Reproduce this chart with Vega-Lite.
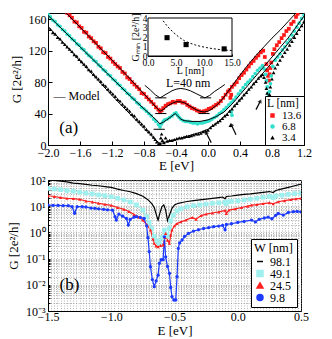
{
  "$schema": "https://vega.github.io/schema/vega-lite/v6.json",
  "padding": {"left": 6, "top": 12, "right": 4, "bottom": 0},
  "spacing": 0,
  "config": {
    "font": "Liberation Serif",
    "view": {"stroke": "black", "strokeWidth": 1},
    "axis": {"labelFont": "Liberation Serif", "titleFont": "Liberation Serif", "labelFontSize": 12, "titleFontSize": 13, "titleFontWeight": "normal", "labelColor": "black", "titleColor": "black", "domainColor": "black", "tickColor": "black", "grid": false, "labelFlush": false, "labelOverlap": false, "tickSize": -4, "labelPadding": 6, "titlePadding": 4},
    "legend": {"titleFont": "Liberation Serif", "labelFont": "Liberation Serif", "titleFontWeight": "normal", "titleFontSize": 12, "labelFontSize": 11.5, "strokeColor": "black", "fillColor": "white", "padding": 3, "rowPadding": 0, "titlePadding": 1, "cornerRadius": 0, "labelColor": "black", "titleColor": "black"},
    "text": {"font": "Liberation Serif"}
  },
  "resolve": {"scale": {"color": "independent", "shape": "independent"}, "legend": {"color": "independent", "shape": "independent"}},
  "datasets": {
    "pa": [
      {"L":"13.6","E":-1.76,"G":168},{"L":"13.6","E":-1.73,"G":165},{"L":"13.6","E":-1.70,"G":162},{"L":"13.6","E":-1.67,"G":157},{"L":"13.6","E":-1.64,"G":156},{"L":"13.6","E":-1.61,"G":151},{"L":"13.6","E":-1.58,"G":149},{"L":"13.6","E":-1.55,"G":144},{"L":"13.6","E":-1.52,"G":143},{"L":"13.6","E":-1.49,"G":138},{"L":"13.6","E":-1.46,"G":136},{"L":"13.6","E":-1.43,"G":132},{"L":"13.6","E":-1.40,"G":130},{"L":"13.6","E":-1.37,"G":125},{"L":"13.6","E":-1.34,"G":123},{"L":"13.6","E":-1.31,"G":118},{"L":"13.6","E":-1.28,"G":117},{"L":"13.6","E":-1.25,"G":112},{"L":"13.6","E":-1.22,"G":110},{"L":"13.6","E":-1.19,"G":106},{"L":"13.6","E":-1.16,"G":103},{"L":"13.6","E":-1.13,"G":100},{"L":"13.6","E":-1.10,"G":98},{"L":"13.6","E":-1.07,"G":93},{"L":"13.6","E":-1.04,"G":91},{"L":"13.6","E":-1.01,"G":86},{"L":"13.6","E":-0.98,"G":84},{"L":"13.6","E":-0.95,"G":80},{"L":"13.6","E":-0.92,"G":77},{"L":"13.6","E":-0.89,"G":74},{"L":"13.6","E":-0.86,"G":71},{"L":"13.6","E":-0.83,"G":66},{"L":"13.6","E":-0.80,"G":65},{"L":"13.6","E":-0.77,"G":61},{"L":"13.6","E":-0.74,"G":58},{"L":"13.6","E":-0.71,"G":55},{"L":"13.6","E":-0.68,"G":52},{"L":"13.6","E":-0.65,"G":48},{"L":"13.6","E":-0.62,"G":45},{"L":"13.6","E":-0.60,"G":42},{"L":"13.6","E":-0.58,"G":44},{"L":"13.6","E":-0.56,"G":47},{"L":"13.6","E":-0.53,"G":50},{"L":"13.6","E":-0.50,"G":52},{"L":"13.6","E":-0.47,"G":53},{"L":"13.6","E":-0.44,"G":55},{"L":"13.6","E":-0.41,"G":54},{"L":"13.6","E":-0.38,"G":56},{"L":"13.6","E":-0.35,"G":56},{"L":"13.6","E":-0.32,"G":54},{"L":"13.6","E":-0.29,"G":54},{"L":"13.6","E":-0.26,"G":51},{"L":"13.6","E":-0.23,"G":49},{"L":"13.6","E":-0.20,"G":47},{"L":"13.6","E":-0.17,"G":46},{"L":"13.6","E":-0.14,"G":44},{"L":"13.6","E":-0.11,"G":43},{"L":"13.6","E":-0.08,"G":42},{"L":"13.6","E":-0.05,"G":43},{"L":"13.6","E":-0.02,"G":44},{"L":"13.6","E":0.01,"G":46},{"L":"13.6","E":0.04,"G":47},{"L":"13.6","E":0.07,"G":49},{"L":"13.6","E":0.10,"G":51},{"L":"13.6","E":0.13,"G":53},{"L":"13.6","E":0.16,"G":56},{"L":"13.6","E":0.19,"G":60},{"L":"13.6","E":0.22,"G":64},{"L":"13.6","E":0.25,"G":68},{"L":"13.6","E":0.27,"G":70},{"L":"13.6","E":0.28,"G":60},{"L":"13.6","E":0.29,"G":64},{"L":"13.6","E":0.30,"G":74},{"L":"13.6","E":0.33,"G":77},{"L":"13.6","E":0.36,"G":80},{"L":"13.6","E":0.39,"G":85},{"L":"13.6","E":0.42,"G":89},{"L":"13.6","E":0.45,"G":92},{"L":"13.6","E":0.48,"G":96},{"L":"13.6","E":0.51,"G":100},{"L":"13.6","E":0.54,"G":104},{"L":"13.6","E":0.57,"G":107},{"L":"13.6","E":0.60,"G":111},{"L":"13.6","E":0.63,"G":114},{"L":"13.6","E":0.66,"G":118},{"L":"13.6","E":0.69,"G":120},{"L":"13.6","E":0.71,"G":112},{"L":"13.6","E":0.73,"G":103},{"L":"13.6","E":0.74,"G":95},{"L":"13.6","E":0.75,"G":88},{"L":"13.6","E":0.76,"G":82},{"L":"13.6","E":0.77,"G":90},{"L":"13.6","E":0.78,"G":98},{"L":"13.6","E":0.79,"G":105},{"L":"13.6","E":0.81,"G":116},{"L":"13.6","E":0.83,"G":122},{"L":"13.6","E":0.86,"G":127},{"L":"13.6","E":0.89,"G":131},{"L":"13.6","E":0.92,"G":136},{"L":"13.6","E":0.95,"G":140},{"L":"13.6","E":0.98,"G":145},{"L":"13.6","E":1.01,"G":148},{"L":"13.6","E":1.04,"G":154},{"L":"13.6","E":1.07,"G":157},{"L":"13.6","E":1.10,"G":163},{"L":"13.6","E":1.12,"G":167},
      {"L":"6.8","E":-2.00,"G":166},{"L":"6.8","E":-1.97,"G":163},{"L":"6.8","E":-1.94,"G":159},{"L":"6.8","E":-1.91,"G":157},{"L":"6.8","E":-1.88,"G":153},{"L":"6.8","E":-1.85,"G":151},{"L":"6.8","E":-1.82,"G":147},{"L":"6.8","E":-1.79,"G":145},{"L":"6.8","E":-1.76,"G":141},{"L":"6.8","E":-1.73,"G":139},{"L":"6.8","E":-1.70,"G":135},{"L":"6.8","E":-1.67,"G":133},{"L":"6.8","E":-1.64,"G":129},{"L":"6.8","E":-1.61,"G":127},{"L":"6.8","E":-1.58,"G":123},{"L":"6.8","E":-1.55,"G":121},{"L":"6.8","E":-1.52,"G":117},{"L":"6.8","E":-1.49,"G":114},{"L":"6.8","E":-1.46,"G":112},{"L":"6.8","E":-1.43,"G":108},{"L":"6.8","E":-1.40,"G":106},{"L":"6.8","E":-1.37,"G":102},{"L":"6.8","E":-1.34,"G":100},{"L":"6.8","E":-1.31,"G":96},{"L":"6.8","E":-1.28,"G":94},{"L":"6.8","E":-1.25,"G":90},{"L":"6.8","E":-1.22,"G":88},{"L":"6.8","E":-1.19,"G":84},{"L":"6.8","E":-1.16,"G":82},{"L":"6.8","E":-1.13,"G":78},{"L":"6.8","E":-1.10,"G":76},{"L":"6.8","E":-1.07,"G":72},{"L":"6.8","E":-1.04,"G":70},{"L":"6.8","E":-1.01,"G":66},{"L":"6.8","E":-0.98,"G":64},{"L":"6.8","E":-0.95,"G":60},{"L":"6.8","E":-0.92,"G":58},{"L":"6.8","E":-0.89,"G":54},{"L":"6.8","E":-0.86,"G":52},{"L":"6.8","E":-0.83,"G":48},{"L":"6.8","E":-0.80,"G":46},{"L":"6.8","E":-0.77,"G":43},{"L":"6.8","E":-0.74,"G":40},{"L":"6.8","E":-0.71,"G":37},{"L":"6.8","E":-0.68,"G":33},{"L":"6.8","E":-0.65,"G":30},{"L":"6.8","E":-0.62,"G":26},{"L":"6.8","E":-0.60,"G":23},{"L":"6.8","E":-0.58,"G":27},{"L":"6.8","E":-0.56,"G":30},{"L":"6.8","E":-0.54,"G":32},{"L":"6.8","E":-0.51,"G":33},{"L":"6.8","E":-0.48,"G":35},{"L":"6.8","E":-0.45,"G":37},{"L":"6.8","E":-0.42,"G":40},{"L":"6.8","E":-0.40,"G":41},{"L":"6.8","E":-0.38,"G":38},{"L":"6.8","E":-0.36,"G":35},{"L":"6.8","E":-0.34,"G":33},{"L":"6.8","E":-0.31,"G":31},{"L":"6.8","E":-0.28,"G":30},{"L":"6.8","E":-0.25,"G":30},{"L":"6.8","E":-0.22,"G":29},{"L":"6.8","E":-0.19,"G":28},{"L":"6.8","E":-0.16,"G":28},{"L":"6.8","E":-0.13,"G":27},{"L":"6.8","E":-0.10,"G":28},{"L":"6.8","E":-0.07,"G":28},{"L":"6.8","E":-0.04,"G":29},{"L":"6.8","E":-0.01,"G":30},{"L":"6.8","E":0.02,"G":31},{"L":"6.8","E":0.05,"G":33},{"L":"6.8","E":0.08,"G":35},{"L":"6.8","E":0.11,"G":37},{"L":"6.8","E":0.14,"G":40},{"L":"6.8","E":0.17,"G":42},{"L":"6.8","E":0.20,"G":45},{"L":"6.8","E":0.23,"G":48},{"L":"6.8","E":0.26,"G":51},{"L":"6.8","E":0.29,"G":42},{"L":"6.8","E":0.29,"G":54},{"L":"6.8","E":0.30,"G":38},{"L":"6.8","E":0.32,"G":57},{"L":"6.8","E":0.35,"G":61},{"L":"6.8","E":0.38,"G":65},{"L":"6.8","E":0.41,"G":69},{"L":"6.8","E":0.44,"G":73},{"L":"6.8","E":0.47,"G":77},{"L":"6.8","E":0.50,"G":80},{"L":"6.8","E":0.53,"G":83},{"L":"6.8","E":0.56,"G":87},{"L":"6.8","E":0.59,"G":91},{"L":"6.8","E":0.62,"G":95},{"L":"6.8","E":0.65,"G":98},{"L":"6.8","E":0.68,"G":101},{"L":"6.8","E":0.70,"G":97},{"L":"6.8","E":0.72,"G":90},{"L":"6.8","E":0.73,"G":82},{"L":"6.8","E":0.74,"G":74},{"L":"6.8","E":0.75,"G":66},{"L":"6.8","E":0.76,"G":62},{"L":"6.8","E":0.77,"G":68},{"L":"6.8","E":0.78,"G":78},{"L":"6.8","E":0.79,"G":88},{"L":"6.8","E":0.81,"G":100},{"L":"6.8","E":0.84,"G":108},{"L":"6.8","E":0.87,"G":112},{"L":"6.8","E":0.90,"G":116},{"L":"6.8","E":0.93,"G":121},{"L":"6.8","E":0.96,"G":125},{"L":"6.8","E":0.99,"G":130},{"L":"6.8","E":1.02,"G":134},{"L":"6.8","E":1.05,"G":140},{"L":"6.8","E":1.08,"G":145},{"L":"6.8","E":1.11,"G":150},{"L":"6.8","E":1.14,"G":155},{"L":"6.8","E":1.17,"G":161},{"L":"6.8","E":1.20,"G":165},
      {"L":"3.4","E":-2.00,"G":150},{"L":"3.4","E":-1.97,"G":147},{"L":"3.4","E":-1.94,"G":143},{"L":"3.4","E":-1.91,"G":141},{"L":"3.4","E":-1.88,"G":137},{"L":"3.4","E":-1.85,"G":135},{"L":"3.4","E":-1.82,"G":131},{"L":"3.4","E":-1.79,"G":128},{"L":"3.4","E":-1.76,"G":125},{"L":"3.4","E":-1.73,"G":122},{"L":"3.4","E":-1.70,"G":119},{"L":"3.4","E":-1.67,"G":115},{"L":"3.4","E":-1.64,"G":113},{"L":"3.4","E":-1.61,"G":109},{"L":"3.4","E":-1.58,"G":106},{"L":"3.4","E":-1.55,"G":103},{"L":"3.4","E":-1.52,"G":100},{"L":"3.4","E":-1.49,"G":96},{"L":"3.4","E":-1.46,"G":94},{"L":"3.4","E":-1.43,"G":90},{"L":"3.4","E":-1.40,"G":87},{"L":"3.4","E":-1.37,"G":84},{"L":"3.4","E":-1.34,"G":81},{"L":"3.4","E":-1.31,"G":77},{"L":"3.4","E":-1.28,"G":75},{"L":"3.4","E":-1.25,"G":71},{"L":"3.4","E":-1.22,"G":68},{"L":"3.4","E":-1.19,"G":65},{"L":"3.4","E":-1.16,"G":62},{"L":"3.4","E":-1.13,"G":58},{"L":"3.4","E":-1.10,"G":56},{"L":"3.4","E":-1.07,"G":52},{"L":"3.4","E":-1.04,"G":49},{"L":"3.4","E":-1.01,"G":46},{"L":"3.4","E":-0.98,"G":43},{"L":"3.4","E":-0.95,"G":39},{"L":"3.4","E":-0.92,"G":37},{"L":"3.4","E":-0.89,"G":33},{"L":"3.4","E":-0.86,"G":30},{"L":"3.4","E":-0.83,"G":27},{"L":"3.4","E":-0.80,"G":24},{"L":"3.4","E":-0.77,"G":20},{"L":"3.4","E":-0.74,"G":17},{"L":"3.4","E":-0.71,"G":14},{"L":"3.4","E":-0.68,"G":10},{"L":"3.4","E":-0.66,"G":7},{"L":"3.4","E":-0.64,"G":4},{"L":"3.4","E":-0.62,"G":1},{"L":"3.4","E":-0.60,"G":2},{"L":"3.4","E":-0.59,"G":9},{"L":"3.4","E":-0.58,"G":14},{"L":"3.4","E":-0.57,"G":6},{"L":"3.4","E":-0.55,"G":3},{"L":"3.4","E":-0.53,"G":9},{"L":"3.4","E":-0.51,"G":5},{"L":"3.4","E":-0.48,"G":6},{"L":"3.4","E":-0.45,"G":6},{"L":"3.4","E":-0.42,"G":7},{"L":"3.4","E":-0.39,"G":8},{"L":"3.4","E":-0.36,"G":9},{"L":"3.4","E":-0.33,"G":9},{"L":"3.4","E":-0.30,"G":10},{"L":"3.4","E":-0.27,"G":11},{"L":"3.4","E":-0.24,"G":11},{"L":"3.4","E":-0.21,"G":12},{"L":"3.4","E":-0.18,"G":13},{"L":"3.4","E":-0.15,"G":14},{"L":"3.4","E":-0.12,"G":14},{"L":"3.4","E":-0.09,"G":15},{"L":"3.4","E":-0.06,"G":17},{"L":"3.4","E":-0.03,"G":18},{"L":"3.4","E":0.00,"G":19},{"L":"3.4","E":0.03,"G":22},{"L":"3.4","E":0.06,"G":25},{"L":"3.4","E":0.09,"G":27},{"L":"3.4","E":0.12,"G":29},{"L":"3.4","E":0.15,"G":31},{"L":"3.4","E":0.18,"G":34},{"L":"3.4","E":0.21,"G":37},{"L":"3.4","E":0.24,"G":39},{"L":"3.4","E":0.27,"G":43},{"L":"3.4","E":0.28,"G":25},{"L":"3.4","E":0.30,"G":46},{"L":"3.4","E":0.33,"G":50},{"L":"3.4","E":0.36,"G":53},{"L":"3.4","E":0.39,"G":57},{"L":"3.4","E":0.42,"G":60},{"L":"3.4","E":0.45,"G":64},{"L":"3.4","E":0.48,"G":67},{"L":"3.4","E":0.51,"G":71},{"L":"3.4","E":0.54,"G":74},{"L":"3.4","E":0.57,"G":78},{"L":"3.4","E":0.60,"G":81},{"L":"3.4","E":0.63,"G":85},{"L":"3.4","E":0.66,"G":88},{"L":"3.4","E":0.68,"G":90},{"L":"3.4","E":0.70,"G":86},{"L":"3.4","E":0.72,"G":80},{"L":"3.4","E":0.73,"G":72},{"L":"3.4","E":0.74,"G":66},{"L":"3.4","E":0.75,"G":61},{"L":"3.4","E":0.76,"G":58},{"L":"3.4","E":0.77,"G":64},{"L":"3.4","E":0.78,"G":74},{"L":"3.4","E":0.80,"G":84},{"L":"3.4","E":0.82,"G":92},{"L":"3.4","E":0.84,"G":98},{"L":"3.4","E":0.87,"G":103},{"L":"3.4","E":0.90,"G":108},{"L":"3.4","E":0.93,"G":113},{"L":"3.4","E":0.96,"G":118},{"L":"3.4","E":0.99,"G":122},{"L":"3.4","E":1.02,"G":127},{"L":"3.4","E":1.05,"G":132},{"L":"3.4","E":1.08,"G":137},{"L":"3.4","E":1.11,"G":142},{"L":"3.4","E":1.14,"G":147},{"L":"3.4","E":1.17,"G":152},{"L":"3.4","E":1.20,"G":157}
    ],
    "ma": [
      {"m":"13.6","E":-1.8,"G":171},{"m":"13.6","E":-1.6,"G":150},{"m":"13.6","E":-1.4,"G":129},{"m":"13.6","E":-1.2,"G":108},{"m":"13.6","E":-1.0,"G":87},{"m":"13.6","E":-0.9,"G":76},{"m":"13.6","E":-0.8,"G":65},{"m":"13.6","E":-0.7,"G":54},{"m":"13.6","E":-0.64,"G":47},{"m":"13.6","E":-0.6,"G":43},{"m":"13.6","E":-0.56,"G":45},{"m":"13.6","E":-0.5,"G":50},{"m":"13.6","E":-0.45,"G":53},{"m":"13.6","E":-0.4,"G":55},{"m":"13.6","E":-0.35,"G":55},{"m":"13.6","E":-0.3,"G":54},{"m":"13.6","E":-0.25,"G":51},{"m":"13.6","E":-0.2,"G":48},{"m":"13.6","E":-0.15,"G":45},{"m":"13.6","E":-0.1,"G":43},{"m":"13.6","E":-0.05,"G":42},{"m":"13.6","E":0.0,"G":43},{"m":"13.6","E":0.05,"G":46},{"m":"13.6","E":0.1,"G":50},{"m":"13.6","E":0.15,"G":55},{"m":"13.6","E":0.2,"G":61},{"m":"13.6","E":0.3,"G":75},{"m":"13.6","E":0.4,"G":89},{"m":"13.6","E":0.5,"G":102},{"m":"13.6","E":0.6,"G":114},{"m":"13.6","E":0.7,"G":125},{"m":"13.6","E":0.8,"G":136},{"m":"13.6","E":0.9,"G":146},{"m":"13.6","E":1.0,"G":157},{"m":"13.6","E":1.1,"G":168},{"m":"13.6","E":1.13,"G":171},
      {"m":"6.8","E":-2.0,"G":165},{"m":"6.8","E":-1.8,"G":145},{"m":"6.8","E":-1.6,"G":125},{"m":"6.8","E":-1.4,"G":105},{"m":"6.8","E":-1.2,"G":85},{"m":"6.8","E":-1.0,"G":65},{"m":"6.8","E":-0.8,"G":46},{"m":"6.8","E":-0.7,"G":37},{"m":"6.8","E":-0.64,"G":31},{"m":"6.8","E":-0.6,"G":27},{"m":"6.8","E":-0.56,"G":29},{"m":"6.8","E":-0.5,"G":33},{"m":"6.8","E":-0.45,"G":37},{"m":"6.8","E":-0.41,"G":40},{"m":"6.8","E":-0.38,"G":37},{"m":"6.8","E":-0.34,"G":33},{"m":"6.8","E":-0.3,"G":31},{"m":"6.8","E":-0.2,"G":30},{"m":"6.8","E":-0.1,"G":30},{"m":"6.8","E":0.0,"G":32},{"m":"6.8","E":0.1,"G":36},{"m":"6.8","E":0.2,"G":42},{"m":"6.8","E":0.3,"G":52},{"m":"6.8","E":0.4,"G":64},{"m":"6.8","E":0.5,"G":76},{"m":"6.8","E":0.6,"G":88},{"m":"6.8","E":0.7,"G":100},{"m":"6.8","E":0.8,"G":112},{"m":"6.8","E":0.9,"G":124},{"m":"6.8","E":1.0,"G":136},{"m":"6.8","E":1.1,"G":150},{"m":"6.8","E":1.2,"G":164},
      {"m":"3.4","E":-2.0,"G":151},{"m":"3.4","E":-1.8,"G":129},{"m":"3.4","E":-1.6,"G":107},{"m":"3.4","E":-1.4,"G":85},{"m":"3.4","E":-1.2,"G":63},{"m":"3.4","E":-1.0,"G":42},{"m":"3.4","E":-0.8,"G":21},{"m":"3.4","E":-0.7,"G":11},{"m":"3.4","E":-0.64,"G":5},{"m":"3.4","E":-0.6,"G":2},{"m":"3.4","E":-0.55,"G":3},{"m":"3.4","E":-0.5,"G":5},{"m":"3.4","E":-0.4,"G":7},{"m":"3.4","E":-0.3,"G":10},{"m":"3.4","E":-0.2,"G":13},{"m":"3.4","E":-0.1,"G":16},{"m":"3.4","E":0.0,"G":20},{"m":"3.4","E":0.1,"G":27},{"m":"3.4","E":0.2,"G":36},{"m":"3.4","E":0.3,"G":46},{"m":"3.4","E":0.4,"G":57},{"m":"3.4","E":0.5,"G":69},{"m":"3.4","E":0.6,"G":81},{"m":"3.4","E":0.7,"G":93},{"m":"3.4","E":0.8,"G":105},{"m":"3.4","E":0.9,"G":117},{"m":"3.4","E":1.0,"G":129},{"m":"3.4","E":1.1,"G":142},{"m":"3.4","E":1.2,"G":156},
      {"m":"40","E":-0.79,"G":76},{"m":"40","E":-0.72,"G":70},{"m":"40","E":-0.66,"G":64},{"m":"40","E":-0.6,"G":60},{"m":"40","E":-0.55,"G":63},{"m":"40","E":-0.5,"G":66},{"m":"40","E":-0.45,"G":69},{"m":"40","E":-0.4,"G":71},{"m":"40","E":-0.34,"G":72},{"m":"40","E":-0.28,"G":71},{"m":"40","E":-0.22,"G":69},{"m":"40","E":-0.16,"G":66},{"m":"40","E":-0.1,"G":63},{"m":"40","E":-0.04,"G":60},{"m":"40","E":0.02,"G":63},{"m":"40","E":0.08,"G":68},{"m":"40","E":0.14,"G":72},{"m":"40","E":0.21,"G":77}
    ],
    "bars": [
      {"E":-0.66,"E2":-0.52,"G":60},{"E":-0.1,"E2":0.04,"G":60},{"E":-0.66,"E2":-0.52,"G":40},{"E":-0.12,"E2":0.02,"G":40},{"E":-0.68,"E2":-0.54,"G":20}
    ],
    "arrows": [
      {"E":0.04,"G":3,"E2":-0.025,"G2":16,"d":"left"},
      {"E":0.35,"G":13,"E2":0.29,"G2":26,"d":"left"},
      {"E":0.6,"G":45,"E2":0.655,"G2":56,"d":"right"}
    ],
    "ta": [
      {"E":-1.93,"G":63,"t":"— Model"},
      {"E":-0.525,"G":79,"t":"L=40 nm"}
    ],
    "tlab": [{"E":-1.74,"G":22,"t":"(a)"}],
    "frame": [{"Li":0,"Li2":15,"Gm":0,"Gm2":4}],
    "ins": [{"Li":3.4,"Gm":1.93},{"Li":6.8,"Gm":1.2},{"Li":13.6,"Gm":0.75}],
    "inc": [
      {"Li":2.7,"Gm":3.7},{"Li":3.5,"Gm":3.1},{"Li":4.5,"Gm":2.5},{"Li":5.5,"Gm":2.0},{"Li":6.5,"Gm":1.6},{"Li":7.5,"Gm":1.35},{"Li":8.5,"Gm":1.15},{"Li":9.5,"Gm":1.0},{"Li":10.5,"Gm":0.88},{"Li":11.5,"Gm":0.78},{"Li":12.5,"Gm":0.7},{"Li":13.5,"Gm":0.64},{"Li":14.5,"Gm":0.6},{"Li":15,"Gm":0.58}
    ],
    "pb": [
      {"W":"98.1","E":-1.5,"G":100},{"W":"98.1","E":-1.45,"G":95.5},{"W":"98.1","E":-1.4,"G":91.2},{"W":"98.1","E":-1.35,"G":85.1},{"W":"98.1","E":-1.3,"G":75.9},{"W":"98.1","E":-1.25,"G":72.4},{"W":"98.1","E":-1.2,"G":67.6},{"W":"98.1","E":-1.15,"G":63.1},{"W":"98.1","E":-1.1,"G":60.3},{"W":"98.1","E":-1.05,"G":56.2},{"W":"98.1","E":-1.0,"G":52.5},{"W":"98.1","E":-0.95,"G":44.7},{"W":"98.1","E":-0.9,"G":39.8},{"W":"98.1","E":-0.85,"G":35.5},{"W":"98.1","E":-0.8,"G":30.2},{"W":"98.1","E":-0.75,"G":24.0},{"W":"98.1","E":-0.71,"G":17.8},{"W":"98.1","E":-0.68,"G":12.6},{"W":"98.1","E":-0.66,"G":8.9},{"W":"98.1","E":-0.645,"G":5.0},{"W":"98.1","E":-0.63,"G":2.95},{"W":"98.1","E":-0.615,"G":5.6},{"W":"98.1","E":-0.6,"G":9.55},{"W":"98.1","E":-0.585,"G":11.2},{"W":"98.1","E":-0.57,"G":7.1},{"W":"98.1","E":-0.555,"G":2.8},{"W":"98.1","E":-0.54,"G":4.5},{"W":"98.1","E":-0.52,"G":8.3},{"W":"98.1","E":-0.5,"G":11.2},{"W":"98.1","E":-0.47,"G":12.9},{"W":"98.1","E":-0.44,"G":13.8},{"W":"98.1","E":-0.4,"G":15.1},{"W":"98.1","E":-0.35,"G":16.2},{"W":"98.1","E":-0.3,"G":17.4},{"W":"98.1","E":-0.25,"G":18.6},{"W":"98.1","E":-0.2,"G":20.0},{"W":"98.1","E":-0.15,"G":21.4},{"W":"98.1","E":-0.12,"G":22.4},{"W":"98.1","E":-0.1,"G":19.1},{"W":"98.1","E":-0.09,"G":23.4},{"W":"98.1","E":-0.05,"G":24.5},{"W":"98.1","E":0.0,"G":26.3},{"W":"98.1","E":0.05,"G":28.2},{"W":"98.1","E":0.1,"G":29.5},{"W":"98.1","E":0.15,"G":31.6},{"W":"98.1","E":0.2,"G":33.9},{"W":"98.1","E":0.25,"G":36.3},{"W":"98.1","E":0.28,"G":33.1},{"W":"98.1","E":0.3,"G":39.8},{"W":"98.1","E":0.35,"G":45.7},{"W":"98.1","E":0.4,"G":52.5},{"W":"98.1","E":0.45,"G":60.3},{"W":"98.1","E":0.5,"G":69.2},
      {"W":"49.1","E":-1.5,"G":47.9},{"W":"49.1","E":-1.45,"G":45.7},{"W":"49.1","E":-1.4,"G":42.7},{"W":"49.1","E":-1.35,"G":39.8},{"W":"49.1","E":-1.3,"G":37.2},{"W":"49.1","E":-1.25,"G":34.7},{"W":"49.1","E":-1.2,"G":31.6},{"W":"49.1","E":-1.15,"G":29.5},{"W":"49.1","E":-1.1,"G":26.9},{"W":"49.1","E":-1.05,"G":25.1},{"W":"49.1","E":-1.0,"G":22.9},{"W":"49.1","E":-0.95,"G":20.0},{"W":"49.1","E":-0.9,"G":17.4},{"W":"49.1","E":-0.85,"G":14.5},{"W":"49.1","E":-0.8,"G":11.2},{"W":"49.1","E":-0.75,"G":7.1},{"W":"49.1","E":-0.72,"G":3.98},{"W":"49.1","E":-0.7,"G":2.4},{"W":"49.1","E":-0.68,"G":1.41},{"W":"49.1","E":-0.66,"G":0.708},{"W":"49.1","E":-0.64,"G":0.479},{"W":"49.1","E":-0.62,"G":0.38},{"W":"49.1","E":-0.6,"G":0.631},{"W":"49.1","E":-0.58,"G":1.23},{"W":"49.1","E":-0.565,"G":0.794},{"W":"49.1","E":-0.555,"G":0.708},{"W":"49.1","E":-0.54,"G":1.41},{"W":"49.1","E":-0.53,"G":2.82},{"W":"49.1","E":-0.51,"G":4.47},{"W":"49.1","E":-0.48,"G":6.61},{"W":"49.1","E":-0.45,"G":7.94},{"W":"49.1","E":-0.4,"G":9.55},{"W":"49.1","E":-0.35,"G":10.5},{"W":"49.1","E":-0.3,"G":11.2},{"W":"49.1","E":-0.25,"G":12.0},{"W":"49.1","E":-0.2,"G":12.9},{"W":"49.1","E":-0.15,"G":13.5},{"W":"49.1","E":-0.1,"G":14.1},{"W":"49.1","E":-0.09,"G":12.6},{"W":"49.1","E":-0.08,"G":14.8},{"W":"49.1","E":-0.05,"G":15.1},{"W":"49.1","E":0.0,"G":15.8},{"W":"49.1","E":0.05,"G":17.4},{"W":"49.1","E":0.1,"G":18.6},{"W":"49.1","E":0.15,"G":20.0},{"W":"49.1","E":0.2,"G":21.9},{"W":"49.1","E":0.25,"G":23.4},{"W":"49.1","E":0.28,"G":21.4},{"W":"49.1","E":0.3,"G":24.5},{"W":"49.1","E":0.35,"G":26.3},{"W":"49.1","E":0.4,"G":28.2},{"W":"49.1","E":0.45,"G":30.2},{"W":"49.1","E":0.5,"G":31.6},
      {"W":"24.5","E":-1.5,"G":25.1},{"W":"24.5","E":-1.45,"G":23.4},{"W":"24.5","E":-1.4,"G":21.4},{"W":"24.5","E":-1.35,"G":20.0},{"W":"24.5","E":-1.3,"G":19.5},{"W":"24.5","E":-1.25,"G":18.2},{"W":"24.5","E":-1.2,"G":15.8},{"W":"24.5","E":-1.15,"G":14.5},{"W":"24.5","E":-1.1,"G":12.9},{"W":"24.5","E":-1.05,"G":11.7},{"W":"24.5","E":-1.0,"G":10.7},{"W":"24.5","E":-0.95,"G":8.9},{"W":"24.5","E":-0.9,"G":7.6},{"W":"24.5","E":-0.86,"G":6.3},{"W":"24.5","E":-0.82,"G":4.79},{"W":"24.5","E":-0.78,"G":3.8},{"W":"24.5","E":-0.75,"G":2.95},{"W":"24.5","E":-0.72,"G":2.0},{"W":"24.5","E":-0.69,"G":1.23},{"W":"24.5","E":-0.67,"G":0.562},{"W":"24.5","E":-0.66,"G":0.38},{"W":"24.5","E":-0.645,"G":0.302},{"W":"24.5","E":-0.63,"G":0.282},{"W":"24.5","E":-0.61,"G":0.316},{"W":"24.5","E":-0.59,"G":0.331},{"W":"24.5","E":-0.575,"G":0.631},{"W":"24.5","E":-0.57,"G":0.912},{"W":"24.5","E":-0.555,"G":0.501},{"W":"24.5","E":-0.54,"G":0.38},{"W":"24.5","E":-0.53,"G":0.794},{"W":"24.5","E":-0.52,"G":1.23},{"W":"24.5","E":-0.5,"G":1.78},{"W":"24.5","E":-0.48,"G":2.19},{"W":"24.5","E":-0.45,"G":2.51},{"W":"24.5","E":-0.41,"G":2.95},{"W":"24.5","E":-0.36,"G":3.72},{"W":"24.5","E":-0.33,"G":3.16},{"W":"24.5","E":-0.29,"G":4.37},{"W":"24.5","E":-0.25,"G":5.01},{"W":"24.5","E":-0.2,"G":5.5},{"W":"24.5","E":-0.15,"G":6.03},{"W":"24.5","E":-0.1,"G":6.92},{"W":"24.5","E":-0.09,"G":5.25},{"W":"24.5","E":-0.07,"G":7.08},{"W":"24.5","E":-0.02,"G":7.94},{"W":"24.5","E":0.03,"G":8.91},{"W":"24.5","E":0.08,"G":10.0},{"W":"24.5","E":0.11,"G":11.0},{"W":"24.5","E":0.15,"G":11.5},{"W":"24.5","E":0.2,"G":12.6},{"W":"24.5","E":0.25,"G":13.5},{"W":"24.5","E":0.28,"G":12.3},{"W":"24.5","E":0.32,"G":14.8},{"W":"24.5","E":0.37,"G":16.2},{"W":"24.5","E":0.42,"G":17.8},{"W":"24.5","E":0.46,"G":19.1},{"W":"24.5","E":0.5,"G":20.0},
      {"W":"9.8","E":-1.5,"G":11.0},{"W":"9.8","E":-1.46,"G":10.7},{"W":"9.8","E":-1.42,"G":10.7},{"W":"9.8","E":-1.38,"G":10.5},{"W":"9.8","E":-1.34,"G":10.5},{"W":"9.8","E":-1.31,"G":9.55},{"W":"9.8","E":-1.29,"G":5.37},{"W":"9.8","E":-1.27,"G":9.55},{"W":"9.8","E":-1.23,"G":9.55},{"W":"9.8","E":-1.2,"G":9.33},{"W":"9.8","E":-1.16,"G":8.51},{"W":"9.8","E":-1.13,"G":8.32},{"W":"9.8","E":-1.1,"G":7.94},{"W":"9.8","E":-1.06,"G":7.59},{"W":"9.8","E":-1.03,"G":7.24},{"W":"9.8","E":-0.99,"G":7.08},{"W":"9.8","E":-0.97,"G":3.98},{"W":"9.8","E":-0.96,"G":2.95},{"W":"9.8","E":-0.94,"G":5.01},{"W":"9.8","E":-0.91,"G":4.17},{"W":"9.8","E":-0.88,"G":3.39},{"W":"9.8","E":-0.865,"G":1.91},{"W":"9.8","E":-0.85,"G":3.16},{"W":"9.8","E":-0.82,"G":3.8},{"W":"9.8","E":-0.8,"G":3.98},{"W":"9.8","E":-0.77,"G":3.72},{"W":"9.8","E":-0.74,"G":3.39},{"W":"9.8","E":-0.72,"G":1.78},{"W":"9.8","E":-0.71,"G":0.631},{"W":"9.8","E":-0.7,"G":0.186},{"W":"9.8","E":-0.69,"G":0.049},{"W":"9.8","E":-0.675,"G":0.0158},{"W":"9.8","E":-0.66,"G":0.0085},{"W":"9.8","E":-0.645,"G":0.0141},{"W":"9.8","E":-0.63,"G":0.0234},{"W":"9.8","E":-0.62,"G":0.066},{"W":"9.8","E":-0.605,"G":0.0912},{"W":"9.8","E":-0.59,"G":0.0912},{"W":"9.8","E":-0.58,"G":0.676},{"W":"9.8","E":-0.57,"G":0.117},{"W":"9.8","E":-0.555,"G":0.05},{"W":"9.8","E":-0.54,"G":0.0275},{"W":"9.8","E":-0.53,"G":0.0079},{"W":"9.8","E":-0.52,"G":0.00355},{"W":"9.8","E":-0.505,"G":0.00263},{"W":"9.8","E":-0.49,"G":0.00263},{"W":"9.8","E":-0.48,"G":0.0204},{"W":"9.8","E":-0.47,"G":0.245},{"W":"9.8","E":-0.46,"G":0.398},{"W":"9.8","E":-0.44,"G":0.513},{"W":"9.8","E":-0.42,"G":0.708},{"W":"9.8","E":-0.39,"G":0.912},{"W":"9.8","E":-0.35,"G":1.12},{"W":"9.8","E":-0.31,"G":1.26},{"W":"9.8","E":-0.27,"G":1.41},{"W":"9.8","E":-0.23,"G":1.51},{"W":"9.8","E":-0.19,"G":1.66},{"W":"9.8","E":-0.15,"G":1.74},{"W":"9.8","E":-0.12,"G":1.86},{"W":"9.8","E":-0.1,"G":1.26},{"W":"9.8","E":-0.09,"G":2.0},{"W":"9.8","E":-0.05,"G":2.14},{"W":"9.8","E":0.0,"G":2.4},{"W":"9.8","E":0.05,"G":2.63},{"W":"9.8","E":0.11,"G":2.95},{"W":"9.8","E":0.14,"G":2.51},{"W":"9.8","E":0.17,"G":3.16},{"W":"9.8","E":0.21,"G":3.55},{"W":"9.8","E":0.24,"G":3.8},{"W":"9.8","E":0.27,"G":3.31},{"W":"9.8","E":0.3,"G":4.47},{"W":"9.8","E":0.32,"G":5.25},{"W":"9.8","E":0.36,"G":4.57},{"W":"9.8","E":0.4,"G":5.75},{"W":"9.8","E":0.44,"G":6.17},{"W":"9.8","E":0.47,"G":6.31},{"W":"9.8","E":0.5,"G":6.03}
    ],
    "tlabb": [{"E":-1.33,"G":0.01,"t":"(b)"}]
  },
  "vconcat": [
    {
      "width": 256,
      "height": 132,
      "resolve": {"scale": {"x": "independent", "y": "independent"}},
      "layer": [
        {
          "layer": [
            {
              "data": {"name": "pa"},
              "mark": {"type": "point", "filled": true, "size": 14, "opacity": 1, "clip": true},
              "encoding": {
                "x": {"field": "E", "type": "quantitative", "scale": {"domain": [-2, 1.2], "nice": false, "zero": false},
                      "axis": {"values": [-2, -1.6, -1.2, -0.8, -0.4, 0, 0.4, 0.8, 1.2], "tickCount": 50, "format": ".1f", "title": "E [eV]", "titlePadding": 1, "labelOverlap": false}},
                "y": {"field": "G", "type": "quantitative", "scale": {"domain": [0, 168], "nice": false, "zero": true},
                      "axis": {"values": [0, 40, 80, 120, 160], "tickCount": 50, "title": "G [2e²/h]", "titlePadding": 5, "labelOverlap": false}},
                "color": {"field": "L", "type": "nominal", "scale": {"domain": ["13.6", "6.8", "3.4"], "range": ["#ff1a1a", "#2ee0cc", "#000000"]},
                          "legend": {"title": "L [nm]", "orient": "bottom-right", "offset": 0, "symbolSize": 20, "clipHeight": 10, "labelFontSize": 11, "titleFontSize": 11.5, "padding": 2}},
                "shape": {"field": "L", "type": "nominal", "scale": {"domain": ["13.6", "6.8", "3.4"], "range": ["square", "circle", "triangle-up"]},
                          "legend": {"title": "L [nm]", "orient": "bottom-right", "offset": 0, "symbolSize": 20, "clipHeight": 10, "labelFontSize": 11, "titleFontSize": 11.5, "padding": 2}}
              }
            },
            {
              "data": {"name": "ma"},
              "mark": {"type": "line", "color": "black", "strokeWidth": 1, "clip": true},
              "encoding": {
                "x": {"field": "E", "type": "quantitative"},
                "y": {"field": "G", "type": "quantitative"},
                "detail": {"field": "m", "type": "nominal"}
              }
            },
            {
              "data": {"name": "bars"},
              "mark": {"type": "rule", "color": "black", "strokeWidth": 1},
              "encoding": {
                "x": {"field": "E", "type": "quantitative"},
                "x2": {"field": "E2"},
                "y": {"field": "G", "type": "quantitative"}
              }
            },
            {
              "data": {"name": "arrows"},
              "mark": {"type": "rule", "color": "black", "strokeWidth": 1.2},
              "encoding": {
                "x": {"field": "E", "type": "quantitative"},
                "y": {"field": "G", "type": "quantitative"},
                "x2": {"field": "E2"},
                "y2": {"field": "G2"}
              }
            },
            {
              "data": {"name": "arrows"},
              "mark": {"type": "point", "shape": "triangle-up", "filled": true, "color": "black", "size": 22},
              "encoding": {
                "x": {"field": "E2", "type": "quantitative"},
                "y": {"field": "G2", "type": "quantitative"},
                "angle": {"field": "d", "type": "nominal", "scale": {"domain": ["left", "right"], "range": [334, 26]}, "legend": null}
              }
            },
            {
              "data": {"name": "ta"},
              "mark": {"type": "text", "align": "left", "baseline": "middle", "fontSize": 12, "color": "black"},
              "encoding": {
                "x": {"field": "E", "type": "quantitative"},
                "y": {"field": "G", "type": "quantitative"},
                "text": {"field": "t"}
              }
            },
            {
              "data": {"name": "tlab"},
              "mark": {"type": "text", "align": "center", "baseline": "middle", "fontSize": 17, "color": "black"},
              "encoding": {
                "x": {"field": "E", "type": "quantitative"},
                "y": {"field": "G", "type": "quantitative"},
                "text": {"field": "t"}
              }
            }
          ]
        },
        {
          "layer": [
            {
              "data": {"name": "frame"},
              "mark": {"type": "rect", "fill": "white", "stroke": "black", "strokeWidth": 1},
              "encoding": {
                "x": {"field": "Li", "type": "quantitative", "scale": {"domain": [0, 15], "range": [100, 184], "nice": false, "zero": false},
                      "axis": {"orient": "bottom", "offset": -89, "values": [0, 5, 10, 15], "tickCount": 50, "title": "L [nm]", "labelFontSize": 9.5, "titleFontSize": 10, "tickSize": -2, "labelPadding": 3, "titlePadding": -1, "labelOverlap": false}},
                "x2": {"field": "Li2"},
                "y": {"field": "Gm", "type": "quantitative", "scale": {"domain": [0, 4], "range": [43, 5], "nice": false, "zero": false},
                      "axis": {"orient": "left", "offset": -100, "values": [0, 1, 2, 3, 4], "tickCount": 50, "format": "d", "title": "Gₘᵢₙ [2e²/h]", "labelFontSize": 9.5, "titleFontSize": 10, "tickSize": -2, "labelPadding": 3, "titlePadding": 2, "labelOverlap": false}},
                "y2": {"field": "Gm2"}
              }
            },
            {
              "data": {"name": "inc"},
              "mark": {"type": "line", "color": "black", "strokeWidth": 1, "strokeDash": [2, 2]},
              "encoding": {
                "x": {"field": "Li", "type": "quantitative"},
                "y": {"field": "Gm", "type": "quantitative"}
              }
            },
            {
              "data": {"name": "ins"},
              "mark": {"type": "point", "shape": "square", "filled": true, "color": "black", "size": 26, "opacity": 1},
              "encoding": {
                "x": {"field": "Li", "type": "quantitative"},
                "y": {"field": "Gm", "type": "quantitative"}
              }
            }
          ]
        }
      ]
    },
    {
      "width": 253,
      "height": 131,
      "layer": [
        {
          "data": {"name": "pb"},
          "mark": {"type": "line", "strokeWidth": 1.2, "clip": true},
          "encoding": {
            "x": {"field": "E", "type": "quantitative", "scale": {"domain": [-1.5, 0.5], "nice": false, "zero": false},
                  "axis": {"values": [-1.5,-1.475,-1.45,-1.425,-1.4,-1.375,-1.35,-1.325,-1.3,-1.275,-1.25,-1.225,-1.2,-1.175,-1.15,-1.125,-1.1,-1.075,-1.05,-1.025,-1,-0.975,-0.95,-0.925,-0.9,-0.875,-0.85,-0.825,-0.8,-0.775,-0.75,-0.725,-0.7,-0.675,-0.65,-0.625,-0.6,-0.575,-0.55,-0.525,-0.5,-0.475,-0.45,-0.425,-0.4,-0.375,-0.35,-0.325,-0.3,-0.275,-0.25,-0.225,-0.2,-0.175,-0.15,-0.125,-0.1,-0.075,-0.05,-0.025,0,0.025,0.05,0.075,0.1,0.125,0.15,0.175,0.2,0.225,0.25,0.275,0.3,0.325,0.35,0.375,0.4,0.425,0.45,0.475,0.5],
                           "tickCount": 200,
                           "labelExpr": "(abs(datum.value + 1.5) < 0.001 || abs(datum.value + 1) < 0.001 || abs(datum.value + 0.5) < 0.001 || abs(datum.value) < 0.001 || abs(datum.value - 0.5) < 0.001) ? format(datum.value, '.1f') : ''",
                           "title": "E [eV]", "grid": true, "gridDash": [1, 1.5], "gridColor": "#8a8a8a", "gridWidth": 0.6, "ticks": false, "labelPadding": 0, "titlePadding": 2, "labelOverlap": false}},
            "y": {"field": "G", "type": "quantitative", "scale": {"type": "log", "domain": [0.001, 100], "nice": false},
                  "axis": {"values": [0.001,0.002,0.003,0.004,0.005,0.006,0.007,0.008,0.009,0.01,0.02,0.03,0.04,0.05,0.06,0.07,0.08,0.09,0.1,0.2,0.3,0.4,0.5,0.6,0.7,0.8,0.9,1,2,3,4,5,6,7,8,9,10,20,30,40,50,60,70,80,90,100],
                           "tickCount": 200,
                           "labelExpr": "datum.value == 100 ? '10²' : datum.value == 10 ? '10¹' : datum.value == 1 ? '10⁰' : datum.value == 0.1 ? '10⁻¹' : datum.value == 0.01 ? '10⁻²' : datum.value == 0.001 ? '10⁻³' : ''",
                           "title": "G [2e²/h]", "grid": true, "gridDash": [1, 1.5], "gridColor": "#8a8a8a", "gridWidth": 0.6, "tickSize": -2, "labelPadding": 5, "titlePadding": 5, "labelOverlap": false}},
            "color": {"field": "W", "type": "nominal", "scale": {"domain": ["98.1", "49.1", "24.5", "9.8"], "range": ["#000000", "#9ff0ee", "#ff2020", "#1d3bff"]},
                      "legend": {"title": "W [nm]", "orient": "bottom-right", "offset": 4, "symbolSize": 36, "labelFontSize": 12, "titleFontSize": 12.5}}
          }
        },
        {
          "data": {"name": "pb"},
          "transform": [{"filter": "datum.W == '49.1'"}],
          "mark": {"type": "point", "shape": "square", "filled": true, "color": "#9ff0ee", "size": 22, "opacity": 1, "clip": true},
          "encoding": {
            "x": {"field": "E", "type": "quantitative"},
            "y": {"field": "G", "type": "quantitative"}
          }
        },
        {
          "data": {"name": "pb"},
          "transform": [{"filter": "datum.W != '98.1'"}],
          "mark": {"type": "point", "filled": true, "size": 11, "opacity": 1, "clip": true},
          "encoding": {
            "x": {"field": "E", "type": "quantitative"},
            "y": {"field": "G", "type": "quantitative"},
            "color": {"field": "W", "type": "nominal", "scale": {"domain": ["98.1", "49.1", "24.5", "9.8"], "range": ["#000000", "#9ff0ee", "#ff2020", "#1d3bff"]},
                      "legend": {"title": "W [nm]", "orient": "bottom-right", "offset": 4, "symbolSize": 36, "labelFontSize": 12, "titleFontSize": 12.5}},
            "shape": {"field": "W", "type": "nominal", "scale": {"domain": ["98.1", "49.1", "24.5", "9.8"], "range": ["stroke", "square", "triangle-up", "circle"]},
                      "legend": {"title": "W [nm]", "orient": "bottom-right", "offset": 4, "symbolSize": 36, "labelFontSize": 12, "titleFontSize": 12.5}}
          }
        },
        {
          "data": {"name": "tlabb"},
          "mark": {"type": "text", "align": "center", "baseline": "middle", "fontSize": 17, "color": "black"},
          "encoding": {
            "x": {"field": "E", "type": "quantitative"},
            "y": {"field": "G", "type": "quantitative"},
            "text": {"field": "t"}
          }
        }
      ]
    }
  ]
}
